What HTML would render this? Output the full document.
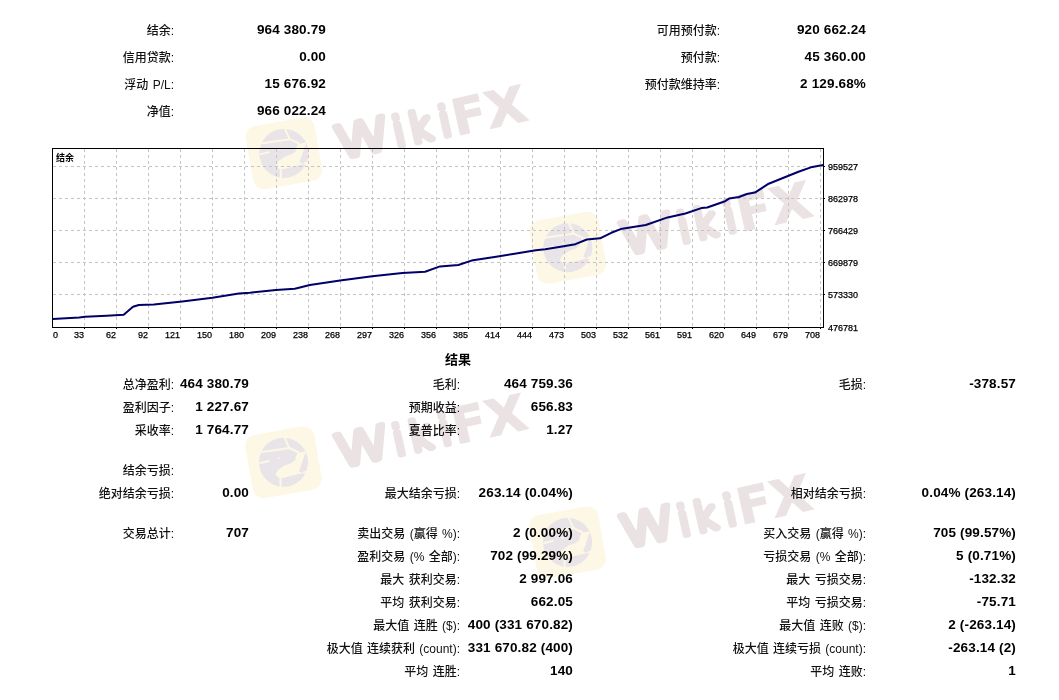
<!DOCTYPE html>
<html><head><meta charset="utf-8"><style>
html,body{margin:0;padding:0;background:#fff;}
body{width:1059px;height:700px;position:relative;overflow:hidden;}
.l{position:absolute;white-space:nowrap;font:500 12px/16px "Liberation Sans", "Noto Sans CJK SC", sans-serif;color:#111;word-spacing:1px;}
.v{position:absolute;white-space:nowrap;font:bold 13.5px/16px "Liberation Sans", "Noto Sans CJK SC", sans-serif;color:#000;letter-spacing:0.15px;}
.h{position:absolute;white-space:nowrap;font:bold 13px/16px "Liberation Sans", "Noto Sans CJK SC", sans-serif;color:#000;}
svg{position:absolute;left:0;top:0;}
.g{stroke:#c4c4c4;stroke-width:1;stroke-dasharray:3 3;}
.t{stroke:#000;stroke-width:1;}
.ax{font:9px "Liberation Sans", sans-serif;fill:#000;stroke:#000;stroke-width:0.25;}
.wm{font:200 40px "DejaVu Sans", sans-serif;fill:#ebe3e3;stroke:#ebe3e3;stroke-width:6.5;stroke-linejoin:round;stroke-linecap:round;}
.wb{font-weight:bold;font-size:50px;stroke-width:1;stroke-linejoin:miter;}
</style></head><body>
<svg width="1059" height="700" viewBox="0 0 1059 700">
<g transform="translate(283.9,153.4) rotate(-10)"><rect x="-35" y="-32" width="70" height="64" rx="11" fill="#fdf7e6"/></g>
<g transform="translate(283.9,153.4)">
  <circle cx="0" cy="0" r="24.5" fill="#e8e4e8"/>
  <path d="M12.3,-2.7 L8.2,0.7 L1.4,3 L-5.4,7.5 L-8.1,12.2 L-4,16.3 L-2,16 L19.7,10.6 L15.6,9.2 L22.4,-11.1 L14.3,-9.5 L11.6,-4.3 Z" fill="#fdf7e6"/>
  <path d="M0.8,-25 L5.9,-14.2 M-23,-10 L5.9,-14.2 L15.3,-9.8 M19.7,10.6 L25,8.5 M-3,16 L-3,25 M-24,1 L-14,-1.5" stroke="#fdf7e6" stroke-width="2" fill="none"/>
  <ellipse cx="-5" cy="-4.3" rx="1.6" ry="0.7" fill="#fdf7e6"/>
</g>
<text transform="translate(350,156) rotate(-12.5)" class="wm"><tspan x="-11.9" y="1" style="font-size:45px;stroke-width:5.5" textLength="57" lengthAdjust="spacingAndGlyphs">W</tspan><tspan x="47.4" y="1">i</tspan><tspan x="62.5" y="1">k</tspan><tspan x="94.5" y="1">i</tspan><tspan x="107.8" y="3.5" class="wb">F</tspan><tspan x="142" y="3.5" class="wb" textLength="41" lengthAdjust="spacingAndGlyphs">X</tspan></text>
<g transform="translate(567.8,247.7) rotate(-10)"><rect x="-35" y="-32" width="70" height="64" rx="11" fill="#fdf7e6"/></g>
<g transform="translate(567.8,247.7)">
  <circle cx="0" cy="0" r="24.5" fill="#e8e4e8"/>
  <path d="M12.3,-2.7 L8.2,0.7 L1.4,3 L-5.4,7.5 L-8.1,12.2 L-4,16.3 L-2,16 L19.7,10.6 L15.6,9.2 L22.4,-11.1 L14.3,-9.5 L11.6,-4.3 Z" fill="#fdf7e6"/>
  <path d="M0.8,-25 L5.9,-14.2 M-23,-10 L5.9,-14.2 L15.3,-9.8 M19.7,10.6 L25,8.5 M-3,16 L-3,25 M-24,1 L-14,-1.5" stroke="#fdf7e6" stroke-width="2" fill="none"/>
  <ellipse cx="-5" cy="-4.3" rx="1.6" ry="0.7" fill="#fdf7e6"/>
</g>
<text transform="translate(635,252) rotate(-12.5)" class="wm"><tspan x="-11.9" y="1" style="font-size:45px;stroke-width:5.5" textLength="57" lengthAdjust="spacingAndGlyphs">W</tspan><tspan x="47.4" y="1">i</tspan><tspan x="62.5" y="1">k</tspan><tspan x="94.5" y="1">i</tspan><tspan x="107.8" y="3.5" class="wb">F</tspan><tspan x="142" y="3.5" class="wb" textLength="41" lengthAdjust="spacingAndGlyphs">X</tspan></text>
<g transform="translate(283.5,462.3) rotate(-10)"><rect x="-35" y="-32" width="70" height="64" rx="11" fill="#fdf7e6"/></g>
<g transform="translate(283.5,462.3)">
  <circle cx="0" cy="0" r="24.5" fill="#e8e4e8"/>
  <path d="M12.3,-2.7 L8.2,0.7 L1.4,3 L-5.4,7.5 L-8.1,12.2 L-4,16.3 L-2,16 L19.7,10.6 L15.6,9.2 L22.4,-11.1 L14.3,-9.5 L11.6,-4.3 Z" fill="#fdf7e6"/>
  <path d="M0.8,-25 L5.9,-14.2 M-23,-10 L5.9,-14.2 L15.3,-9.8 M19.7,10.6 L25,8.5 M-3,16 L-3,25 M-24,1 L-14,-1.5" stroke="#fdf7e6" stroke-width="2" fill="none"/>
  <ellipse cx="-5" cy="-4.3" rx="1.6" ry="0.7" fill="#fdf7e6"/>
</g>
<text transform="translate(350,464.5) rotate(-12.5)" class="wm"><tspan x="-11.9" y="1" style="font-size:45px;stroke-width:5.5" textLength="57" lengthAdjust="spacingAndGlyphs">W</tspan><tspan x="47.4" y="1">i</tspan><tspan x="62.5" y="1">k</tspan><tspan x="94.5" y="1">i</tspan><tspan x="107.8" y="3.5" class="wb">F</tspan><tspan x="142" y="3.5" class="wb" textLength="41" lengthAdjust="spacingAndGlyphs">X</tspan></text>
<g transform="translate(567.6,542.3) rotate(-10)"><rect x="-35" y="-32" width="70" height="64" rx="11" fill="#fdf7e6"/></g>
<g transform="translate(567.6,542.3)">
  <circle cx="0" cy="0" r="24.5" fill="#e8e4e8"/>
  <path d="M12.3,-2.7 L8.2,0.7 L1.4,3 L-5.4,7.5 L-8.1,12.2 L-4,16.3 L-2,16 L19.7,10.6 L15.6,9.2 L22.4,-11.1 L14.3,-9.5 L11.6,-4.3 Z" fill="#fdf7e6"/>
  <path d="M0.8,-25 L5.9,-14.2 M-23,-10 L5.9,-14.2 L15.3,-9.8 M19.7,10.6 L25,8.5 M-3,16 L-3,25 M-24,1 L-14,-1.5" stroke="#fdf7e6" stroke-width="2" fill="none"/>
  <ellipse cx="-5" cy="-4.3" rx="1.6" ry="0.7" fill="#fdf7e6"/>
</g>
<text transform="translate(635,545) rotate(-12.5)" class="wm"><tspan x="-11.9" y="1" style="font-size:45px;stroke-width:5.5" textLength="57" lengthAdjust="spacingAndGlyphs">W</tspan><tspan x="47.4" y="1">i</tspan><tspan x="62.5" y="1">k</tspan><tspan x="94.5" y="1">i</tspan><tspan x="107.8" y="3.5" class="wb">F</tspan><tspan x="142" y="3.5" class="wb" textLength="41" lengthAdjust="spacingAndGlyphs">X</tspan></text></svg>
<div class="l" style="top:22.5px;right:885px">结余:</div><div class="v" style="top:21.5px;right:733px">964 380.79</div><div class="l" style="top:49.5px;right:885px">信用贷款:</div><div class="v" style="top:48.5px;right:733px">0.00</div><div class="l" style="top:76.5px;right:885px">浮动 P/L:</div><div class="v" style="top:75.5px;right:733px">15 676.92</div><div class="l" style="top:103.5px;right:885px">净值:</div><div class="v" style="top:102.5px;right:733px">966 022.24</div><div class="l" style="top:22.5px;right:339px">可用预付款:</div><div class="v" style="top:21.5px;right:193px">920 662.24</div><div class="l" style="top:49.5px;right:339px">预付款:</div><div class="v" style="top:48.5px;right:193px">45 360.00</div><div class="l" style="top:76.5px;right:339px">预付款维持率:</div><div class="v" style="top:75.5px;right:193px">2 129.68%</div><div class="l" style="top:376.7px;right:885px">总净盈利:</div><div class="v" style="top:375.7px;right:810px">464 380.79</div><div class="l" style="top:376.7px;right:599px">毛利:</div><div class="v" style="top:375.7px;right:486px">464 759.36</div><div class="l" style="top:376.7px;right:193px">毛损:</div><div class="v" style="top:375.7px;right:43px">-378.57</div><div class="l" style="top:400.0px;right:885px">盈利因子:</div><div class="v" style="top:399.0px;right:810px">1 227.67</div><div class="l" style="top:400.0px;right:599px">预期收益:</div><div class="v" style="top:399.0px;right:486px">656.83</div><div class="l" style="top:423.0px;right:885px">采收率:</div><div class="v" style="top:422.0px;right:810px">1 764.77</div><div class="l" style="top:423.0px;right:599px">夏普比率:</div><div class="v" style="top:422.0px;right:486px">1.27</div><div class="l" style="top:462.5px;right:885px">结余亏损:</div><div class="l" style="top:485.7px;right:885px">绝对结余亏损:</div><div class="v" style="top:484.7px;right:810px">0.00</div><div class="l" style="top:485.7px;right:599px">最大结余亏损:</div><div class="v" style="top:484.7px;right:486px">263.14 (0.04%)</div><div class="l" style="top:485.7px;right:193px">相对结余亏损:</div><div class="v" style="top:484.7px;right:43px">0.04% (263.14)</div><div class="l" style="top:525.9px;right:885px">交易总计:</div><div class="v" style="top:524.9px;right:810px">707</div><div class="l" style="top:525.9px;right:599px">卖出交易 (赢得 %):</div><div class="v" style="top:524.9px;right:486px">2 (0.00%)</div><div class="l" style="top:525.9px;right:193px">买入交易 (赢得 %):</div><div class="v" style="top:524.9px;right:43px">705 (99.57%)</div><div class="l" style="top:548.9px;right:599px">盈利交易 (% 全部):</div><div class="v" style="top:547.9px;right:486px">702 (99.29%)</div><div class="l" style="top:548.9px;right:193px">亏损交易 (% 全部):</div><div class="v" style="top:547.9px;right:43px">5 (0.71%)</div><div class="l" style="top:571.9px;right:599px">最大 获利交易:</div><div class="v" style="top:570.9px;right:486px">2 997.06</div><div class="l" style="top:571.9px;right:193px">最大 亏损交易:</div><div class="v" style="top:570.9px;right:43px">-132.32</div><div class="l" style="top:594.9px;right:599px">平均 获利交易:</div><div class="v" style="top:593.9px;right:486px">662.05</div><div class="l" style="top:594.9px;right:193px">平均 亏损交易:</div><div class="v" style="top:593.9px;right:43px">-75.71</div><div class="l" style="top:617.9px;right:599px">最大值 连胜 ($):</div><div class="v" style="top:616.9px;right:486px">400 (331 670.82)</div><div class="l" style="top:617.9px;right:193px">最大值 连败 ($):</div><div class="v" style="top:616.9px;right:43px">2 (-263.14)</div><div class="l" style="top:640.9px;right:599px">极大值 连续获利 (count):</div><div class="v" style="top:639.9px;right:486px">331 670.82 (400)</div><div class="l" style="top:640.9px;right:193px">极大值 连续亏损 (count):</div><div class="v" style="top:639.9px;right:43px">-263.14 (2)</div><div class="l" style="top:663.9px;right:599px">平均 连胜:</div><div class="v" style="top:662.9px;right:486px">140</div><div class="l" style="top:663.9px;right:193px">平均 连败:</div><div class="v" style="top:662.9px;right:43px">1</div>
<div class="h" style="left:445px;top:352px">结果</div>
<svg width="1059" height="700" viewBox="0 0 1059 700">
<rect x="52.5" y="148.5" width="771" height="179" fill="none" stroke="#000" stroke-width="1"/>
<line x1="84.5" y1="149" x2="84.5" y2="327" class="g"/><line x1="84.5" y1="327" x2="84.5" y2="329" class="t"/><line x1="116.5" y1="149" x2="116.5" y2="327" class="g"/><line x1="116.5" y1="327" x2="116.5" y2="329" class="t"/><line x1="148.5" y1="149" x2="148.5" y2="327" class="g"/><line x1="148.5" y1="327" x2="148.5" y2="329" class="t"/><line x1="180.5" y1="149" x2="180.5" y2="327" class="g"/><line x1="180.5" y1="327" x2="180.5" y2="329" class="t"/><line x1="212.5" y1="149" x2="212.5" y2="327" class="g"/><line x1="212.5" y1="327" x2="212.5" y2="329" class="t"/><line x1="244.5" y1="149" x2="244.5" y2="327" class="g"/><line x1="244.5" y1="327" x2="244.5" y2="329" class="t"/><line x1="276.5" y1="149" x2="276.5" y2="327" class="g"/><line x1="276.5" y1="327" x2="276.5" y2="329" class="t"/><line x1="308.5" y1="149" x2="308.5" y2="327" class="g"/><line x1="308.5" y1="327" x2="308.5" y2="329" class="t"/><line x1="340.5" y1="149" x2="340.5" y2="327" class="g"/><line x1="340.5" y1="327" x2="340.5" y2="329" class="t"/><line x1="372.5" y1="149" x2="372.5" y2="327" class="g"/><line x1="372.5" y1="327" x2="372.5" y2="329" class="t"/><line x1="404.5" y1="149" x2="404.5" y2="327" class="g"/><line x1="404.5" y1="327" x2="404.5" y2="329" class="t"/><line x1="436.5" y1="149" x2="436.5" y2="327" class="g"/><line x1="436.5" y1="327" x2="436.5" y2="329" class="t"/><line x1="468.5" y1="149" x2="468.5" y2="327" class="g"/><line x1="468.5" y1="327" x2="468.5" y2="329" class="t"/><line x1="500.5" y1="149" x2="500.5" y2="327" class="g"/><line x1="500.5" y1="327" x2="500.5" y2="329" class="t"/><line x1="532.5" y1="149" x2="532.5" y2="327" class="g"/><line x1="532.5" y1="327" x2="532.5" y2="329" class="t"/><line x1="564.5" y1="149" x2="564.5" y2="327" class="g"/><line x1="564.5" y1="327" x2="564.5" y2="329" class="t"/><line x1="596.5" y1="149" x2="596.5" y2="327" class="g"/><line x1="596.5" y1="327" x2="596.5" y2="329" class="t"/><line x1="628.5" y1="149" x2="628.5" y2="327" class="g"/><line x1="628.5" y1="327" x2="628.5" y2="329" class="t"/><line x1="660.5" y1="149" x2="660.5" y2="327" class="g"/><line x1="660.5" y1="327" x2="660.5" y2="329" class="t"/><line x1="692.5" y1="149" x2="692.5" y2="327" class="g"/><line x1="692.5" y1="327" x2="692.5" y2="329" class="t"/><line x1="724.5" y1="149" x2="724.5" y2="327" class="g"/><line x1="724.5" y1="327" x2="724.5" y2="329" class="t"/><line x1="756.5" y1="149" x2="756.5" y2="327" class="g"/><line x1="756.5" y1="327" x2="756.5" y2="329" class="t"/><line x1="788.5" y1="149" x2="788.5" y2="327" class="g"/><line x1="788.5" y1="327" x2="788.5" y2="329" class="t"/><line x1="820.5" y1="149" x2="820.5" y2="327" class="g"/><line x1="820.5" y1="327" x2="820.5" y2="329" class="t"/><line x1="53" y1="166.5" x2="823" y2="166.5" class="g"/><line x1="823" y1="166.5" x2="825" y2="166.5" class="t"/><line x1="53" y1="198.5" x2="823" y2="198.5" class="g"/><line x1="823" y1="198.5" x2="825" y2="198.5" class="t"/><line x1="53" y1="230.5" x2="823" y2="230.5" class="g"/><line x1="823" y1="230.5" x2="825" y2="230.5" class="t"/><line x1="53" y1="262.5" x2="823" y2="262.5" class="g"/><line x1="823" y1="262.5" x2="825" y2="262.5" class="t"/><line x1="53" y1="294.5" x2="823" y2="294.5" class="g"/><line x1="823" y1="294.5" x2="825" y2="294.5" class="t"/>
<text x="56" y="161" style="font:bold 9px 'Liberation Sans','Noto Sans CJK SC',sans-serif">结余</text>
<text x="53" y="338" class="ax">0</text><text x="84" y="338" class="ax" text-anchor="end">33</text><text x="116" y="338" class="ax" text-anchor="end">62</text><text x="148" y="338" class="ax" text-anchor="end">92</text><text x="180" y="338" class="ax" text-anchor="end">121</text><text x="212" y="338" class="ax" text-anchor="end">150</text><text x="244" y="338" class="ax" text-anchor="end">180</text><text x="276" y="338" class="ax" text-anchor="end">209</text><text x="308" y="338" class="ax" text-anchor="end">238</text><text x="340" y="338" class="ax" text-anchor="end">268</text><text x="372" y="338" class="ax" text-anchor="end">297</text><text x="404" y="338" class="ax" text-anchor="end">326</text><text x="436" y="338" class="ax" text-anchor="end">356</text><text x="468" y="338" class="ax" text-anchor="end">385</text><text x="500" y="338" class="ax" text-anchor="end">414</text><text x="532" y="338" class="ax" text-anchor="end">444</text><text x="564" y="338" class="ax" text-anchor="end">473</text><text x="596" y="338" class="ax" text-anchor="end">503</text><text x="628" y="338" class="ax" text-anchor="end">532</text><text x="660" y="338" class="ax" text-anchor="end">561</text><text x="692" y="338" class="ax" text-anchor="end">591</text><text x="724" y="338" class="ax" text-anchor="end">620</text><text x="756" y="338" class="ax" text-anchor="end">649</text><text x="788" y="338" class="ax" text-anchor="end">679</text><text x="820" y="338" class="ax" text-anchor="end">708</text>
<text x="828" y="169.5" class="ax">959527</text><text x="828" y="201.5" class="ax">862978</text><text x="828" y="233.5" class="ax">766429</text><text x="828" y="265.5" class="ax">669879</text><text x="828" y="297.5" class="ax">573330</text><text x="828" y="330.5" class="ax">476781</text>
<polyline points="52.8,319.1 79.3,317.6 85.0,316.7 106.7,315.7 123.7,314.8 133.0,306.8 138.8,305.0 153.9,304.6 182.2,301.5 212.4,297.8 238.9,293.6 250.0,292.7 275.9,290.0 294.8,288.7 309.9,285.0 340.1,280.6 372.2,276.3 402.4,273.0 425.1,271.7 440.0,266.4 458.3,265.0 471.5,260.6 496.1,256.8 513.1,254.0 535.8,250.2 545.2,249.3 562.2,246.4 575.4,244.2 586.8,239.5 600.0,238.3 611.3,232.8 620.7,229.1 630.0,227.6 645.8,225.0 667.6,217.4 685.4,213.5 701.3,208.1 707.2,207.5 725.1,201.2 729.1,198.6 739.0,197.0 746.9,194.0 754.8,192.6 768.7,183.7 788.5,175.8 798.5,171.8 812.3,166.9 823.3,164.9" fill="none" stroke="#000068" stroke-width="2" stroke-linejoin="round"/>
</svg>
</body></html>
